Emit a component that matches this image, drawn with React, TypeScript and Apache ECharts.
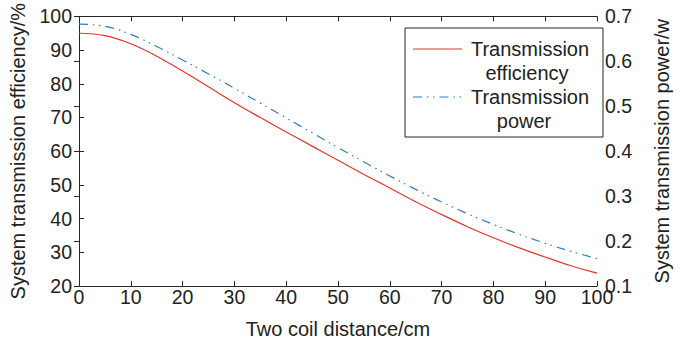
import React, { useEffect, useRef } from "react";
import * as echarts from "echarts";

const distance = [0, 5, 10, 15, 20, 25, 30, 35, 40, 45, 50, 55, 60, 65, 70, 75, 80, 85, 90, 95, 100];
const efficiency = [95.0, 94.3, 91.9, 88.2, 83.8, 79.1, 74.4, 70.0, 65.7, 61.5, 57.3, 53.1, 49.1, 45.0, 41.2, 37.6, 34.3, 31.3, 28.6, 26.0, 23.8];
const power = [0.683, 0.678, 0.660, 0.633, 0.603, 0.572, 0.540, 0.507, 0.474, 0.441, 0.408, 0.376, 0.345, 0.315, 0.287, 0.261, 0.237, 0.215, 0.195, 0.177, 0.161];

const xTicks = { min: 0, max: 100, interval: 10 };
const leftTicks = { min: 20, max: 100, interval: 10 };
const rightTicks = { min: 0.1, max: 0.7, interval: 0.1 };

const xName = "Two coil distance/cm";
const leftName = "System transmission efficiency/%";
const rightName = "System transmission power/w";
const effName = ["Transmission", "efficiency"];
const powName = ["Transmission", "power"];

const RED = "#e8362b";
const BLUE = "#2f7dc6";
const FONT = "'Liberation Sans', Arial, sans-serif";
const AXIS = "#262626";
const DASH = [9, 5, 1.5, 4.5, 1.5, 5];

export default function App() {
  const ref = useRef<HTMLDivElement>(null);
  useEffect(() => {
    if (!ref.current) return;
    const chart = echarts.init(ref.current, null, { renderer: "svg" });
    const fs = 19.5;
    const lfs = 20;
    const axisCommon = {
      axisLine: { show: true, lineStyle: { color: AXIS, width: 1 } },
      axisTick: { show: true, inside: true, length: 5, lineStyle: { color: AXIS } },
      splitLine: { show: false },
    };
    chart.setOption({
      animation: false,
      backgroundColor: "#ffffff",
      textStyle: { fontFamily: FONT },
      grid: { left: 72, right: 72, top: 13, bottom: 60, containLabel: false },
      xAxis: [
        {
          type: "value",
          position: "bottom",
          ...xTicks,
          ...axisCommon,
          axisLabel: { fontSize: fs, color: "#222", margin: 3, lineHeight: 15, fontFamily: FONT },
          name: xName,
          nameLocation: "middle",
          nameGap: 33,
          nameTextStyle: { fontSize: 20, color: "#222", fontFamily: FONT },
        },
        {
          type: "value",
          position: "top",
          ...xTicks,
          ...axisCommon,
          axisLabel: { show: false },
        },
      ],
      yAxis: [
        {
          type: "value",
          position: "left",
          ...leftTicks,
          ...axisCommon,
          axisLabel: { fontSize: fs, color: "#222", margin: 7, lineHeight: 15, fontFamily: FONT },
          name: leftName,
          nameLocation: "middle",
          nameGap: 51,
          nameTextStyle: { fontSize: 20, color: "#222", fontFamily: FONT },
        },
        {
          type: "value",
          position: "right",
          ...rightTicks,
          ...axisCommon,
          axisLabel: {
            fontSize: fs,
            color: "#222",
            margin: 8,
            lineHeight: 15,
            fontFamily: FONT,
            formatter: (v: number) => v.toFixed(1),
          },
          name: rightName,
          nameLocation: "middle",
          nameGap: 55,
          nameRotate: 90,
          nameTextStyle: { fontSize: 20, color: "#222", fontFamily: FONT },
        },
      ],
      series: [
        {
          name: "Transmission efficiency",
          type: "line",
          xAxisIndex: 0,
          yAxisIndex: 0,
          data: distance.map((d, i) => [d, efficiency[i]]),
          showSymbol: false,
          smooth: 0.4,
          lineStyle: { color: RED, width: 1.2 },
        },
        {
          name: "Transmission power",
          type: "line",
          xAxisIndex: 0,
          yAxisIndex: 1,
          data: distance.map((d, i) => [d, power[i]]),
          showSymbol: false,
          smooth: 0.4,
          lineStyle: { color: BLUE, width: 1.2, type: DASH },
        },
      ],
      graphic: [
        {
          type: "group",
          z: 100,
          children: [
            {
              type: "rect",
              shape: { x: 405, y: 28, width: 198, height: 109 },
              style: { fill: "#fff", stroke: AXIS, lineWidth: 1 },
            },
            {
              type: "line",
              shape: { x1: 413, y1: 49, x2: 462, y2: 49 },
              style: { stroke: RED, lineWidth: 1.2 },
            },
            {
              type: "line",
              shape: { x1: 413, y1: 97, x2: 462, y2: 97 },
              style: { stroke: BLUE, lineWidth: 1.2, lineDash: DASH },
            },
            {
              type: "text",
              x: 530,
              y: 49,
              style: { text: effName[0], fontSize: lfs, fontFamily: FONT, fill: "#222", align: "center", verticalAlign: "middle" },
            },
            {
              type: "text",
              x: 527,
              y: 73,
              style: { text: effName[1], fontSize: lfs, fontFamily: FONT, fill: "#222", align: "center", verticalAlign: "middle" },
            },
            {
              type: "text",
              x: 530,
              y: 97,
              style: { text: powName[0], fontSize: lfs, fontFamily: FONT, fill: "#222", align: "center", verticalAlign: "middle" },
            },
            {
              type: "text",
              x: 524,
              y: 121,
              style: { text: powName[1], fontSize: lfs, fontFamily: FONT, fill: "#222", align: "center", verticalAlign: "middle" },
            },
          ],
        },
      ],
    });
    return () => chart.dispose();
  }, []);
  return (
    <div
      ref={ref}
      style={{ position: "fixed", left: 0, top: 0, width: 680, height: 346, background: "#fff" }}
    />
  );
}
